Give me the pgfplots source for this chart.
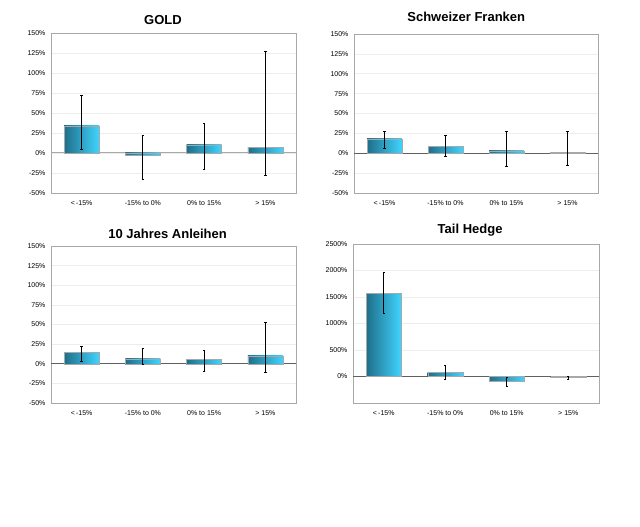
\documentclass[border=0pt]{standalone}
\usepackage{pgfplots}
\pgfplotsset{compat=1.18}
\usepackage{fontspec}
\setmainfont{Liberation Sans}
\definecolor{bardark}{HTML}{1F6F8A}
\definecolor{barlight}{HTML}{40D4FF}
\definecolor{framegray}{HTML}{A8A8A8}
\definecolor{zerogray}{HTML}{606060}
\definecolor{gridgray}{HTML}{EDEDED}

\pgfplotsset{
  panel/.style={
    scale only axis,
    axis background/.style={fill=white},
    axis line style={framegray, line width=0.8pt},
    xmin=-0.5, xmax=3.5,
    xtick={0,1,2,3},
    xticklabels={{<\,-15\%},{-15\% to 0\%},{0\% to 15\%},{> 15\%}},
    x tick label style={font=\fontsize{7}{8}\selectfont, yshift=-4.5pt},
    y tick label style={font=\fontsize{7}{8}\selectfont, xshift=-2pt},
    yticklabel={\pgfmathprintnumber[1000 sep={}]{\tick}\%},
    /pgf/number format/assume math mode=true,
    major tick length=0pt,
    ymajorgrids,
    grid style={gridgray, line width=0.6pt},
    title style={font=\bfseries\fontsize{13}{14}\selectfont, anchor=south},
    extra y ticks={0},
    extra y tick style={grid style={zerogray, line width=1pt}},
    extra y tick labels={},
  },
  bars/.style={
    ybar, bar width=0.57, bar shift=0pt, draw=framegray, line width=0.4pt,
    left color=bardark, right color=barlight,
    error bars/.cd, y dir=both, y explicit,
    error bar style={black, line width=0.8pt},
    error mark options={black, mark size=1.2pt, rotate=90, line width=0.8pt},
  },
}

\begin{document}
\begin{tikzpicture}
\useasboundingbox[fill=white] (0pt,0pt) rectangle (640pt,527pt);

% GOLD
\begin{axis}[panel, at={(51pt,334pt)}, anchor=south west, width=245pt, height=160pt,
  ymin=-50, ymax=150, ytick={-50,-25,0,25,50,75,100,125,150},
  extra y tick style={grid style={framegray, line width=1pt}},
  title={GOLD}, title style={at={(axis description cs:0.457,1)}, yshift=-1pt}]
\addplot[bars] coordinates {(0,34) += (0,38) -= (0,29)};
\addplot[bars] coordinates {(1,-3) += (0,25.5) -= (0,30)};
\addplot[bars] coordinates {(2,10) += (0,27) -= (0,30)};
\addplot[bars] coordinates {(3,7) += (0,120) -= (0,35)};
\end{axis}

% Schweizer Franken
\begin{axis}[panel, at={(354pt,334pt)}, anchor=south west, width=244pt, height=159pt,
  ymin=-50, ymax=150, ytick={-50,-25,0,25,50,75,100,125,150},
  title={Schweizer Franken}, title style={at={(axis description cs:0.46,1)}, yshift=3pt}]
\addplot[bars] coordinates {(0,18) += (0,9.7) -= (0,12)};
\addplot[bars] coordinates {(1,8.4) += (0,14.2) -= (0,12.2)};
\addplot[bars] coordinates {(2,3) += (0,24) -= (0,19)};
\addplot[bars] coordinates {(3,1) += (0,26.7) -= (0,16)};
\end{axis}

% 10 Jahres Anleihen
\begin{axis}[panel, at={(51pt,124pt)}, anchor=south west, width=245pt, height=157pt,
  ymin=-50, ymax=150, ytick={-50,-25,0,25,50,75,100,125,150},
  title={10 Jahres Anleihen}, title style={at={(axis description cs:0.476,1)}, yshift=-2pt}]
\addplot[bars] coordinates {(0,14.5) += (0,7.5) -= (0,11.1)};
\addplot[bars] coordinates {(1,6.4) += (0,13.2) -= (0,7.7)};
\addplot[bars] coordinates {(2,5.5) += (0,11.9) -= (0,15.5)};
\addplot[bars] coordinates {(3,10) += (0,42.8) -= (0,21)};
\end{axis}

% Tail Hedge
\begin{axis}[panel, at={(353pt,124pt)}, anchor=south west, width=246pt, height=159pt,
  ymin=-500, ymax=2500, ytick={0,500,1000,1500,2000,2500},
  title={Tail Hedge}, title style={at={(axis description cs:0.476,1)}, yshift=-2pt}]
\addplot[bars] coordinates {(0,1575) += (0,387) -= (0,381)};
\addplot[bars] coordinates {(1,75) += (0,137) -= (0,131)};
\addplot[bars] coordinates {(2,-81) += (0,56) -= (0,100)};
\addplot[bars] coordinates {(3,-19) += (0,19) -= (0,37)};
\end{axis}
\end{tikzpicture}
\end{document}
